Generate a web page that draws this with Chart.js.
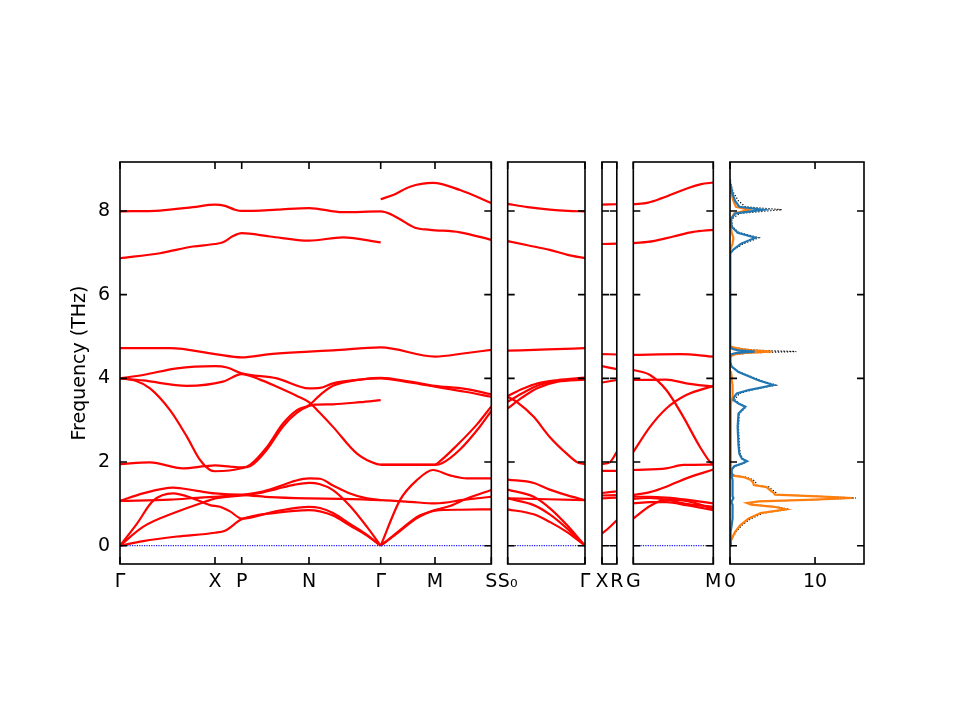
<!DOCTYPE html>
<html>
<head>
<meta charset="utf-8">
<script src="https://cdn.jsdelivr.net/npm/chart.js@4.4.0/dist/chart.umd.min.js"></script>
<style>
  body { margin: 0; background: #fff; }
  #fig { position: relative; width: 960px; height: 720px; background: #fff; }
  #fig canvas { position: absolute; left: 0; top: 0; }
</style>
</head>
<body>
<div id="fig">
  <canvas id="pA" width="960" height="720"></canvas>
  <canvas id="pB" width="960" height="720"></canvas>
  <canvas id="pC" width="960" height="720"></canvas>
  <canvas id="pD" width="960" height="720"></canvas>
  <canvas id="pDos" width="960" height="720"></canvas>
</div>
<script>
// frequency axis (THz)
const freqMin = -0.437, freqMax = 9.17;
const freqTicks = [0, 2, 4, 6, 8];

// path 1: Γ-X-P-N-Γ-M-S  (k = path length)
const kA = [0, 0.95, 1.217, 1.89, 2.607, 3.15, 3.713];
const labA = ['Γ', 'X', 'P', 'N', 'Γ', 'M', 'S'];
const bandsA = [
  [[0,7.99],[0.4,8.01],[0.73,8.09],[0.95,8.15],[1.05,8.12],[1.15,8.03],[1.217,8.0],[1.57,8.03],[1.89,8.07],[2.23,7.97],[2.607,7.99],[2.7,7.93],[2.8,7.8],[2.95,7.6],[3.1,7.55],[3.4,7.49],[3.713,7.31]],
  [[0,6.87],[0.4,6.99],[0.73,7.15],[0.95,7.21],[1.03,7.25],[1.13,7.4],[1.217,7.47],[1.5,7.39],[1.89,7.29],[2.23,7.37],[2.607,7.25]],
  [[2.607,8.28],[2.75,8.4],[2.9,8.58],[3.13,8.67],[3.4,8.5],[3.713,8.19]],
  [[0,4.72],[0.5,4.72],[0.95,4.58],[1.217,4.5],[1.5,4.58],[1.89,4.64],[2.13,4.67],[2.607,4.74],[3.15,4.52],[3.45,4.6],[3.713,4.68]],
  [[0,4.0],[0.23,4.08],[0.57,4.24],[0.95,4.29],[1.07,4.26],[1.217,4.12],[1.57,4.0],[1.89,3.76],[2.0,3.77],[2.13,3.88],[2.4,3.97],[2.607,4.01],[2.9,3.92],[3.15,3.82],[3.45,3.75],[3.713,3.62]],
  [[0,4.0],[0.23,3.95],[0.67,3.82],[1.03,3.92],[1.217,4.1],[1.4,3.97],[1.57,3.8],[1.77,3.58],[1.89,3.43],[2.0,3.17],[2.13,2.84],[2.37,2.2],[2.57,1.95],[2.607,1.94],[2.9,1.94],[3.15,1.94],[3.2,2.02],[3.37,2.4],[3.57,2.9],[3.713,3.33]],
  [[0,4.0],[0.15,3.95],[0.3,3.76],[0.5,3.24],[0.67,2.6],[0.8,2.05],[0.9,1.81],[0.95,1.78],[1.217,1.85],[1.3,1.93],[1.47,2.36],[1.63,2.92],[1.77,3.24],[1.89,3.36],[2.0,3.6],[2.13,3.82],[2.4,3.97],[2.607,4.0],[2.9,3.9],[3.15,3.8],[3.45,3.68],[3.713,3.56]],
  [[0,1.95],[0.3,1.99],[0.63,1.85],[0.85,1.9],[0.95,1.92],[1.1,1.89],[1.217,1.87],[1.3,1.9],[1.47,2.3],[1.63,2.85],[1.77,3.18],[1.89,3.34],[1.95,3.37],[2.13,3.38],[2.4,3.43],[2.607,3.48]],
  [[2.607,1.93],[2.9,1.93],[3.15,1.93],[3.22,1.97],[3.4,2.3],[3.6,2.85],[3.713,3.22]],
  [[0,1.07],[0.5,1.1],[0.8,1.15],[0.95,1.17],[1.217,1.21],[1.5,1.16],[1.89,1.13],[2.2,1.12],[2.607,1.09],[2.9,1.05],[3.15,1.01],[3.45,1.1],[3.713,1.17]],
  [[0,1.07],[0.23,1.25],[0.53,1.39],[0.77,1.31],[0.95,1.25],[1.217,1.22],[1.4,1.28],[1.57,1.4],[1.75,1.55],[1.89,1.61],[2.0,1.6],[2.13,1.44],[2.3,1.25],[2.47,1.13],[2.607,1.09]],
  [[0,0],[0.23,0.45],[0.57,0.81],[0.9,1.09],[0.95,1.13],[1.217,1.2],[1.4,1.26],[1.57,1.36],[1.75,1.46],[1.89,1.5],[2.0,1.47],[2.13,1.33],[2.3,0.95],[2.47,0.45],[2.607,0]],
  [[0,0],[0.17,0.53],[0.33,1.07],[0.53,1.25],[0.73,1.13],[0.9,0.97],[1.0,0.93],[1.1,0.82],[1.217,0.65],[1.57,0.83],[1.89,0.93],[2.0,0.9],[2.13,0.78],[2.3,0.52],[2.47,0.26],[2.607,0]],
  [[0,0],[0.23,0.11],[0.57,0.22],[0.95,0.31],[1.05,0.36],[1.217,0.63],[1.57,0.79],[1.89,0.85],[2.0,0.82],[2.13,0.72],[2.3,0.48],[2.47,0.24],[2.607,0]],
  [[2.607,0],[2.8,1.09],[2.97,1.57],[3.13,1.81],[3.3,1.68],[3.47,1.61],[3.713,1.61]],
  [[2.607,0],[2.8,0.37],[2.97,0.69],[3.15,0.85],[3.3,0.95],[3.47,1.13],[3.713,1.33]],
  [[2.607,0],[2.8,0.35],[2.97,0.66],[3.15,0.84],[3.4,0.86],[3.713,0.87]]
];

// path 2: S0-Γ
const kB = [0, 0.773];
const labB = ['S₀', 'Γ'];
const bandsB = [
  [[0,8.17],[0.2,8.09],[0.42,8.03],[0.6,8.0],[0.773,7.99]],
  [[0,7.28],[0.2,7.18],[0.42,7.07],[0.6,6.95],[0.773,6.87]],
  [[0,4.66],[0.4,4.69],[0.773,4.72]],
  [[0,3.56],[0.1,3.42],[0.26,3.08],[0.42,2.6],[0.59,2.2],[0.7,1.99],[0.773,1.95]],
  [[0,3.58],[0.15,3.75],[0.3,3.88],[0.5,3.96],[0.773,4.02]],
  [[0,3.44],[0.15,3.65],[0.3,3.83],[0.5,3.94],[0.773,4.0]],
  [[0,3.28],[0.15,3.55],[0.3,3.77],[0.5,3.92],[0.773,3.97]],
  [[0,1.58],[0.26,1.5],[0.42,1.34],[0.59,1.21],[0.773,1.09]],
  [[0,1.34],[0.26,1.17],[0.42,0.9],[0.59,0.5],[0.773,0]],
  [[0,1.13],[0.4,1.11],[0.773,1.09]],
  [[0,1.13],[0.26,0.97],[0.42,0.75],[0.59,0.42],[0.773,0]],
  [[0,0.87],[0.26,0.75],[0.42,0.57],[0.59,0.33],[0.773,0]]
];

// path 3: X-R
const kC = [0, 0.148];
const labC = ['X', 'R'];
const bandsC = [
  [[0,8.15],[0.148,8.16]],
  [[0,7.21],[0.148,7.22]],
  [[0,4.58],[0.148,4.57]],
  [[0,4.29],[0.148,4.22]],
  [[0,3.9],[0.148,3.96]],
  [[0,1.95],[0.08,2.0],[0.148,2.24]],
  [[0,1.79],[0.148,1.79]],
  [[0,1.26],[0.148,1.3]],
  [[0,1.2],[0.148,1.21]],
  [[0,1.13],[0.148,1.15]],
  [[0,0.29],[0.07,0.43],[0.148,0.61]]
];

// path 4: G-M
const kD = [0, 0.8];
const labD = ['G', 'M'];
const bandsD = [
  [[0,8.16],[0.15,8.2],[0.28,8.3],[0.55,8.55],[0.68,8.64],[0.8,8.68]],
  [[0,7.23],[0.2,7.28],[0.4,7.39],[0.6,7.5],[0.8,7.55]],
  [[0,4.56],[0.47,4.58],[0.8,4.52]],
  [[0,4.2],[0.167,4.08],[0.33,3.72],[0.5,3.08],[0.667,2.36],[0.78,1.97],[0.8,1.95]],
  [[0,3.96],[0.33,3.97],[0.53,3.88],[0.8,3.8]],
  [[0,2.24],[0.167,2.84],[0.33,3.28],[0.53,3.6],[0.8,3.82]],
  [[0,1.81],[0.33,1.85],[0.5,1.93],[0.8,1.94]],
  [[0,1.21],[0.167,1.28],[0.33,1.41],[0.53,1.61],[0.8,1.82]],
  [[0,1.17],[0.167,1.17],[0.33,1.15],[0.53,1.1],[0.8,1.01]],
  [[0,1.12],[0.167,1.14],[0.33,1.1],[0.53,1.0],[0.8,0.93]],
  [[0,1.01],[0.167,1.04],[0.33,1.04],[0.53,0.97],[0.8,0.85]],
  [[0,0.65],[0.167,0.95],[0.33,1.1],[0.53,1.07],[0.8,0.88]]
];

// phonon DOS
const dosFreq   = [0,0.13,0.33,0.49,0.65,0.78,0.87,0.93,0.98,1.02,1.06,1.10,1.14,1.18,1.22,1.27,1.33,1.40,1.45,1.52,1.58,1.64,1.68,1.74,1.82,1.90,1.97,2.02,2.08,2.20,2.40,2.84,3.16,3.32,3.40,3.48,3.56,3.64,3.72,3.84,3.95,4.05,4.15,4.28,4.42,4.52,4.57,4.61,4.64,4.67,4.70,4.74,4.78,6.98,7.08,7.22,7.36,7.48,7.62,7.80,7.94,8.03,8.10,8.24,8.44,8.60,8.75];
const dosTotal  = [0,0.15,0.7,1.4,2.5,3.9,6.9,5.5,2.8,2.2,3.6,10.2,14.8,10.6,5.6,5.4,5.0,4.6,3.1,3.0,2.7,1.8,0.5,0.2,0.2,0.6,1.6,2.1,1.5,1.2,1.1,1.0,1.1,1.9,1.1,0.6,0.8,1.1,2.5,5.4,3.6,2.4,1.1,0.2,0,0,0.6,2.6,7.8,3.5,1.6,0.4,0,0,0.5,1.6,3.4,1.1,0.3,0.2,1.1,6.1,1.8,1.0,0.4,0.15,0];
const dosBlue   = [0,0.05,0.1,0.2,0.3,0.3,0.3,0.3,0.3,0.2,0.2,0.3,0.4,0.3,0.3,0.3,0.3,0.3,0.3,0.3,0.3,0.2,0.3,0.2,0.2,0.5,1.5,2.0,1.4,1.1,1.0,0.9,1.0,1.8,1.0,0.4,0.5,0.8,2.2,5.1,3.4,2.2,1.0,0.2,0,0,0.1,0.8,2.9,1.0,0.3,0.1,0,0,0.4,1.3,3.0,0.9,0.2,0.1,0.6,3.9,1.1,0.6,0.25,0.1,0];
const dosOrange = [0,0.1,0.6,1.2,2.2,3.6,6.6,5.2,2.5,2.0,3.4,9.9,14.4,10.3,5.3,5.1,4.7,4.3,2.8,2.7,2.4,1.6,0.2,0,0,0.1,0.1,0.1,0.1,0.1,0.1,0.1,0.1,0.1,0.1,0.2,0.3,0.3,0.3,0.3,0.2,0.2,0.1,0,0,0,0.5,1.8,4.9,2.5,1.3,0.3,0,0,0.1,0.3,0.4,0.2,0.1,0.1,0.5,2.2,0.7,0.4,0.15,0.05,0];
const dosMax = 15.76;
const dosTicks = [0, 10];

Chart.defaults.font.family = "'DejaVu Sans', sans-serif";
Chart.defaults.font.size = 19;
Chart.defaults.color = '#000';

// inward ticks on all four sides plus the frame
const frame = {
  id: 'frame',
  afterDatasetsDraw(chart) {
    const { ctx, chartArea: a, scales: { x, y } } = chart;
    ctx.save();
    ctx.strokeStyle = '#000';
    ctx.lineWidth = 1.6;
    ctx.beginPath();
    y.ticks.forEach(t => {
      const p = y.getPixelForValue(t.value);
      ctx.moveTo(a.left, p); ctx.lineTo(a.left + 7, p);
      ctx.moveTo(a.right, p); ctx.lineTo(a.right - 7, p);
    });
    x.ticks.forEach(t => {
      const p = x.getPixelForValue(t.value);
      ctx.moveTo(p, a.bottom); ctx.lineTo(p, a.bottom - 7);
      ctx.moveTo(p, a.top); ctx.lineTo(p, a.top + 7);
    });
    ctx.stroke();
    ctx.strokeRect(a.left, a.top, a.width, a.height);
    ctx.restore();
  }
};

function bandSets(bands, kmax) {
  const sets = [{
    data: [[0, 0], [kmax, 0]],
    borderColor: '#1a1aff', borderWidth: 1.2, borderDash: [1.2, 1.2]
  }];
  bands.forEach(b => sets.push({
    data: b, borderColor: '#ff0000', borderWidth: 2.2,
    cubicInterpolationMode: 'monotone'
  }));
  return sets;
}

function makePanel(id, left, right, xMax, xTicks, xLabels, datasets, withY) {
  const yw = withY ? 51 : 0, xh = 40;
  return new Chart(document.getElementById(id), {
    type: 'line',
    data: { datasets },
    options: {
      responsive: false,
      animation: false,
      events: [],
      layout: { padding: { left: left - yw, right: 960 - right, top: 162, bottom: 720 - 564 - xh } },
      plugins: { legend: { display: false }, tooltip: { enabled: false } },
      elements: { point: { radius: 0 }, line: { fill: false } },
      scales: {
        x: {
          type: 'linear', min: 0, max: xMax,
          afterBuildTicks: s => { s.ticks = xTicks.map(v => ({ value: v })); },
          afterFit: s => { s.height = xh; s.paddingLeft = 0; s.paddingRight = 0; },
          grid: { display: false, drawTicks: false },
          border: { display: false },
          ticks: { autoSkip: false, maxRotation: 0, minRotation: 0, padding: 7,
                   callback: (v, i) => xLabels[i] }
        },
        y: {
          type: 'linear', min: freqMin, max: freqMax,
          afterBuildTicks: s => { s.ticks = freqTicks.map(v => ({ value: v })); },
          afterFit: s => { s.width = yw; s.paddingTop = 0; s.paddingBottom = 0; },
          grid: { display: false, drawTicks: false },
          border: { display: false },
          ticks: { display: withY, padding: 10 },
          title: { display: withY, text: 'Frequency (THz)', padding: 0 }
        }
      }
    },
    plugins: [frame]
  });
}

makePanel('pA', 120, 491.3, kA[kA.length - 1], kA, labA, bandSets(bandsA, kA[kA.length - 1]), true);
makePanel('pB', 507.7, 585, kB[1], kB, labB, bandSets(bandsB, kB[1]), false);
makePanel('pC', 602, 616.8, kC[1], kC, labC, bandSets(bandsC, kC[1]), false);
makePanel('pD', 633.3, 713.3, kD[1], kD, labD, bandSets(bandsD, kD[1]), false);

const pts = vals => dosFreq.map((f, i) => ({ x: vals[i], y: f }));
makePanel('pDos', 730, 864, dosMax, dosTicks, dosTicks.map(String), [
  { data: pts(dosBlue), borderColor: '#1f77b4', borderWidth: 2.2, tension: 0 },
  { data: pts(dosOrange), borderColor: '#ff7f0e', borderWidth: 2.2, tension: 0 },
  { data: pts(dosTotal), borderColor: '#000', borderWidth: 1.2, borderDash: [1.2, 1.8], tension: 0 }
], false);
</script>
</body>
</html>
